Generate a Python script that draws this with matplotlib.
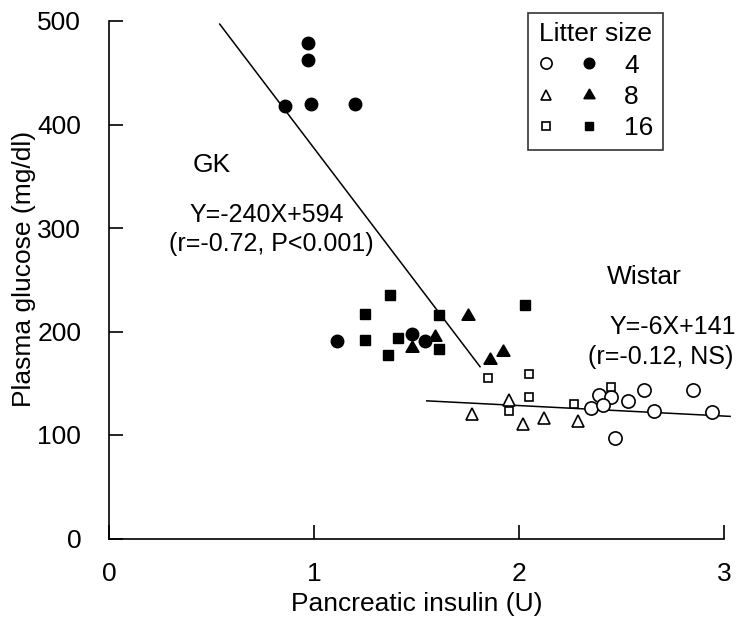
import numpy as np
import matplotlib.pyplot as plt
from matplotlib.legend_handler import HandlerTuple

# pancreatic insulin (U) vs plasma glucose (mg/dl)
# GK rats = filled symbols, Wistar rats = open symbols
gk4_x = [0.86, 0.97, 0.97, 0.985, 1.20, 1.11, 1.48, 1.54]
gk4_y = [418, 479, 462, 420, 420, 191, 198, 191]
gk8_x = [1.48, 1.59, 1.75, 1.86, 1.92]
gk8_y = [184, 195, 215, 172, 180]
gk16_x = [1.37, 1.25, 1.25, 1.41, 1.36, 1.61, 1.61, 2.03]
gk16_y = [235, 217, 192, 194, 177, 183, 216, 226]

w4_x = [2.35, 2.39, 2.45, 2.41, 2.53, 2.61, 2.85, 2.66, 2.94, 2.47]
w4_y = [126, 139, 137, 129, 133, 143, 143, 123, 122, 97]
w8_x = [1.77, 1.95, 2.02, 2.12, 2.29]
w8_y = [120, 134, 111, 116, 114]
w16_x = [1.85, 2.05, 2.05, 1.95, 2.27, 2.45]
w16_y = [155, 159, 137, 123, 130, 146]

# regression lines as drawn
gk_line_x = [0.54, 1.81]
gk_line_y = [497, 166]
wistar_line_x = [1.55, 3.03]
wistar_line_y = [133, 118]

x_ticks = [0, 1, 2, 3]
y_ticks = [0, 100, 200, 300, 400, 500]
litter_sizes = ["4", "8", "16"]

plt.rcParams['font.family'] = ['Liberation Sans', 'DejaVu Sans']

fig = plt.figure(figsize=(7.46, 6.18), dpi=100)
ax = fig.add_axes([109/746, 79.5/618, 615/746, 517.5/618])

lw = 1.1
ax.plot(gk_line_x, gk_line_y, color='black', lw=lw, clip_on=False)
ax.plot(wistar_line_x, wistar_line_y, color='black', lw=lw, clip_on=False)

o4, = ax.plot(w4_x, w4_y, 'o', ms=9.5, mfc='white', mec='black', mew=1.2, ls='none', clip_on=False)
o8, = ax.plot(w8_x, w8_y, '^', ms=8.5, mfc='white', mec='black', mew=1.2, ls='none')
o16, = ax.plot(w16_x, w16_y, 's', ms=6, mfc='white', mec='black', mew=1.2, ls='none')
f4, = ax.plot(gk4_x, gk4_y, 'o', ms=9, color='black', ls='none')
f8, = ax.plot(gk8_x, gk8_y, marker=(3, 1, 0), ms=11, color='black', ls='none')
f16, = ax.plot(gk16_x, gk16_y, 's', ms=6.5, color='black', ls='none')

ax.set_xlim(0, 3)
ax.set_ylim(0, 500)
ax.set_xticks(x_ticks)
ax.set_yticks(y_ticks)
ax.spines['top'].set_visible(False)
ax.spines['right'].set_visible(False)
ax.spines['left'].set_linewidth(1.2)
ax.spines['bottom'].set_linewidth(1.2)
ax.tick_params(axis='both', direction='in', labelsize=19, width=1.2)
ax.tick_params(axis='x', length=10, pad=17)
ax.tick_params(axis='y', length=10, pad=20)

ax.set_xlabel('Pancreatic insulin (U)', fontsize=19, labelpad=4)
ax.set_ylabel('Plasma glucose (mg/dl)', fontsize=19, labelpad=12)
ax.yaxis.set_label_coords(-0.118, 0.52)

# annotations
ax.text(0.41, 361, 'GK', fontsize=19, ha='left', va='center')
ax.text(0.77, 313, 'Y=-240X+594', fontsize=18, ha='center', va='center')
ax.text(0.79, 285, '(r=-0.72, P<0.001)', fontsize=18, ha='center', va='center')
ax.text(2.61, 253, 'Wistar', fontsize=19, ha='center', va='center')
ax.text(2.75, 204, 'Y=-6X+141', fontsize=18, ha='center', va='center')
ax.text(2.69, 175, '(r=-0.12, NS)', fontsize=18, ha='center', va='center')

leg = ax.legend([(o4, f4), (o8, f8), (o16, f16)], litter_sizes,
                handler_map={tuple: HandlerTuple(ndivide=None, pad=0.9)},
                title='Litter size', title_fontsize=19, fontsize=19,
                loc='upper left', bbox_to_anchor=(528/746, 1 - 13/618),
                bbox_transform=fig.transFigure, borderaxespad=0,
                frameon=True, fancybox=False, edgecolor='black',
                handlelength=2.3, handletextpad=1.0, labelspacing=0.28,
                borderpad=0.35, markerscale=0.85)
leg.get_frame().set_linewidth(1.2)

fig.savefig('out.png', dpi=100)
